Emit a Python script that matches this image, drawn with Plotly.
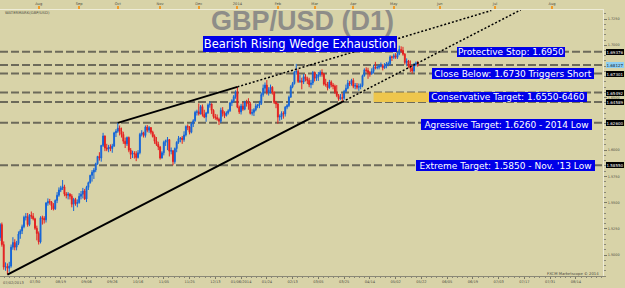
import pandas as pd
import plotly.graph_objects as go

# ---------------- data ----------------
first_day, last_day = "2013-07-02", "2014-05-20"
holidays = ["2013-12-25", "2014-01-01"]

open_ = [1.5210,1.5165,1.5290,1.5100,1.4885,1.4890,1.4875,1.4895,1.5075,1.5120,
 1.5075,1.5110,1.5200,1.5230,1.5270,1.5360,1.5365,1.5290,1.5380,1.5370,
 1.5345,1.5255,1.5205,1.5125,1.5355,1.5350,1.5335,1.5495,1.5510,1.5505,
 1.5470,1.5440,1.5520,1.5570,1.5620,1.5640,1.5650,1.5580,1.5570,1.5580,
 1.5560,1.5485,1.5530,1.5490,1.5500,1.5560,1.5580,1.5610,1.5535,1.5645,
 1.5690,1.5760,1.5790,1.5810,1.5870,1.5940,1.5925,1.6045,1.6135,1.6020,
 1.6010,1.6030,1.6015,1.6040,1.6165,1.6180,1.6210,1.6180,1.6150,1.6085,
 1.6060,1.6120,1.6000,1.5960,1.5970,1.5965,1.5930,1.5975,1.6150,1.6165,
 1.6140,1.6220,1.6190,1.6215,1.6170,1.6130,1.6085,1.6055,1.6030,1.5925,
 1.5975,1.6075,1.6090,1.6100,1.5990,1.5995,1.5890,1.6015,1.6075,1.6110,
 1.6115,1.6100,1.6145,1.6225,1.6220,1.6170,1.6250,1.6280,1.6360,1.6365,
 1.6345,1.6415,1.6340,1.6315,1.6355,1.6430,1.6440,1.6380,1.6320,1.6310,
 1.6295,1.6275,1.6380,1.6350,1.6330,1.6355,1.6375,1.6450,1.6470,1.6510,
 1.6555,1.6410,1.6365,1.6420,1.6390,1.6455,1.6450,1.6440,1.6350,1.6360,
 1.6385,1.6420,1.6430,1.6445,1.6530,1.6590,1.6620,1.6555,1.6575,1.6600,
 1.6555,1.6455,1.6440,1.6315,1.6320,1.6350,1.6345,1.6410,1.6425,1.6505,
 1.6605,1.6635,1.6745,1.6750,1.6655,1.6660,1.6650,1.6700,1.6680,1.6665,
 1.6625,1.6640,1.6740,1.6685,1.6700,1.6720,1.6740,1.6725,1.6630,1.6625,
 1.6595,1.6650,1.6620,1.6610,1.6555,1.6520,1.6490,1.6500,1.6495,1.6560,
 1.6590,1.6640,1.6635,1.6665,1.6610,1.6615,1.6600,1.6605,1.6615,1.6710,
 1.6765,1.6760,1.6740,1.6725,1.6750,1.6790,1.6785,1.6790,1.6800,1.6805,
 1.6785,1.6800,1.6820,1.6825,1.6890,1.6885,1.6900,1.6885,1.6915,1.6960,
 1.6950,1.6915,1.6835,1.6850,1.6800,1.6780,1.6755,1.6815,1.6830]

high = [1.5250,1.5305,1.5310,1.5130,1.4930,1.4920,1.4935,1.5100,1.5170,1.5150,
 1.5135,1.5225,1.5245,1.5290,1.5375,1.5400,1.5400,1.5390,1.5415,1.5400,
 1.5355,1.5280,1.5225,1.5370,1.5375,1.5370,1.5505,1.5540,1.5535,1.5515,
 1.5495,1.5530,1.5600,1.5645,1.5660,1.5715,1.5670,1.5600,1.5600,1.5590,
 1.5580,1.5545,1.5545,1.5530,1.5590,1.5610,1.5640,1.5630,1.5660,1.5700,
 1.5765,1.5810,1.5830,1.5880,1.5945,1.5980,1.6050,1.6165,1.6140,1.6060,
 1.6050,1.6055,1.6060,1.6175,1.6200,1.6260,1.6235,1.6215,1.6175,1.6120,
 1.6130,1.6130,1.6020,1.5995,1.5990,1.5990,1.6000,1.6165,1.6190,1.6175,
 1.6235,1.6240,1.6230,1.6220,1.6185,1.6150,1.6125,1.6080,1.6040,1.5990,
 1.6090,1.6100,1.6125,1.6105,1.6025,1.6000,1.6025,1.6085,1.6135,1.6125,
 1.6135,1.6180,1.6235,1.6245,1.6230,1.6265,1.6295,1.6375,1.6385,1.6445,
 1.6430,1.6435,1.6385,1.6365,1.6445,1.6465,1.6445,1.6390,1.6345,1.6340,
 1.6310,1.6405,1.6410,1.6370,1.6370,1.6390,1.6460,1.6485,1.6525,1.6570,
 1.6603,1.6425,1.6440,1.6460,1.6470,1.6480,1.6495,1.6460,1.6390,1.6400,
 1.6445,1.6440,1.6470,1.6550,1.6625,1.6645,1.6668,1.6600,1.6625,1.6610,
 1.6560,1.6470,1.6450,1.6340,1.6370,1.6370,1.6420,1.6440,1.6520,1.6620,
 1.6650,1.6755,1.6822,1.6770,1.6715,1.6690,1.6725,1.6725,1.6700,1.6690,
 1.6670,1.6755,1.6750,1.6725,1.6745,1.6760,1.6770,1.6735,1.6680,1.6650,
 1.6670,1.6665,1.6640,1.6625,1.6620,1.6535,1.6535,1.6540,1.6575,1.6625,
 1.6670,1.6660,1.6680,1.6685,1.6640,1.6640,1.6635,1.6635,1.6720,1.6780,
 1.6790,1.6785,1.6755,1.6780,1.6815,1.6842,1.6805,1.6820,1.6835,1.6820,
 1.6830,1.6840,1.6845,1.6905,1.6900,1.6920,1.6925,1.6935,1.6996,1.6990,
 1.6985,1.6925,1.6875,1.6860,1.6855,1.6810,1.6830,1.6845,1.6850]

low = [1.5145,1.5135,1.5080,1.4860,1.4850,1.4814,1.4840,1.4880,1.5050,1.5045,
 1.5045,1.5095,1.5155,1.5200,1.5255,1.5330,1.5270,1.5275,1.5345,1.5330,
 1.5240,1.5140,1.5100,1.5110,1.5290,1.5300,1.5310,1.5470,1.5480,1.5430,
 1.5425,1.5430,1.5495,1.5555,1.5600,1.5620,1.5560,1.5540,1.5530,1.5530,
 1.5455,1.5420,1.5470,1.5455,1.5490,1.5530,1.5540,1.5525,1.5505,1.5620,
 1.5680,1.5700,1.5725,1.5790,1.5860,1.5900,1.5890,1.6030,1.5990,1.5990,
 1.5980,1.5990,1.5975,1.6030,1.6125,1.6165,1.6140,1.6120,1.6060,1.6020,
 1.6040,1.5980,1.5915,1.5925,1.5920,1.5895,1.5920,1.5960,1.6130,1.6120,
 1.6120,1.6170,1.6165,1.6150,1.6120,1.6060,1.6040,1.6000,1.5910,1.5920,
 1.5950,1.6040,1.6000,1.5940,1.5960,1.5855,1.5870,1.5980,1.6060,1.6075,
 1.6060,1.6080,1.6130,1.6190,1.6150,1.6160,1.6220,1.6270,1.6330,1.6330,
 1.6340,1.6320,1.6305,1.6270,1.6345,1.6405,1.6345,1.6300,1.6290,1.6280,
 1.6240,1.6260,1.6320,1.6305,1.6320,1.6340,1.6365,1.6420,1.6455,1.6490,
 1.6400,1.6345,1.6340,1.6375,1.6380,1.6415,1.6385,1.6340,1.6330,1.6325,
 1.6370,1.6400,1.6400,1.6430,1.6510,1.6550,1.6530,1.6520,1.6540,1.6530,
 1.6440,1.6400,1.6252,1.6280,1.6290,1.6300,1.6320,1.6390,1.6410,1.6500,
 1.6590,1.6625,1.6720,1.6640,1.6640,1.6580,1.6630,1.6655,1.6630,1.6600,
 1.6590,1.6620,1.6655,1.6660,1.6660,1.6700,1.6700,1.6615,1.6605,1.6570,
 1.6585,1.6600,1.6580,1.6535,1.6505,1.6470,1.6480,1.6460,1.6480,1.6550,
 1.6580,1.6610,1.6615,1.6590,1.6580,1.6580,1.6565,1.6580,1.6600,1.6700,
 1.6740,1.6680,1.6700,1.6720,1.6730,1.6770,1.6770,1.6770,1.6790,1.6760,
 1.6775,1.6780,1.6800,1.6810,1.6850,1.6870,1.6870,1.6870,1.6905,1.6930,
 1.6900,1.6815,1.6800,1.6785,1.6745,1.6730,1.6740,1.6800,1.6795]

close = [1.5165,1.5290,1.5100,1.4885,1.4890,1.4875,1.4895,1.5075,1.5120,1.5075,
 1.5110,1.5200,1.5230,1.5270,1.5360,1.5365,1.5290,1.5380,1.5370,1.5345,
 1.5255,1.5205,1.5125,1.5355,1.5350,1.5335,1.5495,1.5510,1.5505,1.5470,
 1.5440,1.5520,1.5570,1.5620,1.5640,1.5650,1.5580,1.5570,1.5580,1.5560,
 1.5485,1.5530,1.5490,1.5500,1.5560,1.5580,1.5610,1.5535,1.5645,1.5690,
 1.5760,1.5790,1.5810,1.5870,1.5940,1.5925,1.6045,1.6135,1.6020,1.6010,
 1.6030,1.6015,1.6040,1.6165,1.6180,1.6210,1.6180,1.6150,1.6085,1.6060,
 1.6120,1.6000,1.5960,1.5970,1.5965,1.5930,1.5975,1.6150,1.6165,1.6140,
 1.6220,1.6190,1.6215,1.6170,1.6130,1.6085,1.6055,1.6030,1.5925,1.5975,
 1.6075,1.6090,1.6100,1.5990,1.5995,1.5890,1.6015,1.6075,1.6110,1.6115,
 1.6100,1.6145,1.6225,1.6220,1.6170,1.6250,1.6280,1.6360,1.6365,1.6345,
 1.6415,1.6340,1.6315,1.6355,1.6430,1.6440,1.6380,1.6320,1.6310,1.6295,
 1.6275,1.6380,1.6350,1.6330,1.6355,1.6375,1.6450,1.6470,1.6510,1.6555,
 1.6410,1.6365,1.6420,1.6390,1.6455,1.6450,1.6440,1.6350,1.6360,1.6385,
 1.6420,1.6430,1.6445,1.6530,1.6590,1.6620,1.6555,1.6575,1.6600,1.6555,
 1.6455,1.6440,1.6315,1.6320,1.6350,1.6345,1.6410,1.6425,1.6505,1.6605,
 1.6635,1.6745,1.6750,1.6655,1.6660,1.6650,1.6700,1.6680,1.6665,1.6625,
 1.6640,1.6740,1.6685,1.6700,1.6720,1.6740,1.6725,1.6630,1.6625,1.6595,
 1.6650,1.6620,1.6610,1.6555,1.6520,1.6490,1.6500,1.6495,1.6560,1.6590,
 1.6640,1.6635,1.6665,1.6610,1.6615,1.6600,1.6605,1.6615,1.6710,1.6765,
 1.6760,1.6740,1.6725,1.6750,1.6790,1.6785,1.6790,1.6800,1.6805,1.6785,
 1.6800,1.6820,1.6825,1.6890,1.6885,1.6900,1.6885,1.6915,1.6960,1.6950,
 1.6915,1.6835,1.6850,1.6800,1.6780,1.6755,1.6815,1.6830,1.6813]

levels = [1.69376, 1.68127, 1.67301, 1.65492, 1.64589, 1.62600, 1.58550]
level_tags = ["1.69376", "1.68127", "1.67301", "1.65492", "1.64589", "1.62600", "1.58550"]
current_tag = "1.68127"

y_ticks = [1.5000, 1.5250, 1.5500, 1.5750, 1.6000, 1.6250, 1.6500, 1.6750, 1.7000, 1.7250]
y_hidden = [1.6250, 1.6750]          # labels covered by the price tags

bottom_dates = ["2013-07-30", "2013-08-19", "2013-09-06", "2013-09-26", "2013-10-16",
                "2013-11-05", "2013-11-25", "2013-12-13", "2014-01-06", "2014-01-24",
                "2014-02-13", "2014-03-05", "2014-03-25", "2014-04-14", "2014-05-02",
                "2014-05-22", "2014-06-05", "2014-06-19", "2014-07-03", "2014-07-17",
                "2014-07-31", "2014-08-14"]
bottom_labels = ["07/30", "08/19", "09/06", "09/26", "10/16", "11/05", "11/25", "12/13",
                 "01/06/2014", "01/24", "02/13", "03/05", "03/25", "04/14", "05/02",
                 "05/22", "06/05", "06/19", "07/03", "07/17", "07/31", "08/14"]
first_label = "07/02/2013"

month_dates = ["2013-08-01", "2013-09-02", "2013-10-01", "2013-11-01", "2013-12-02",
               "2014-01-02", "2014-02-03", "2014-03-03", "2014-04-01", "2014-05-01",
               "2014-06-01", "2014-07-01", "2014-08-01"]
month_labels = ["Aug", "Sep", "Oct", "Nov", "Dec", "2014", "Feb", "Mar", "Apr", "May",
                "Jun", "Jul", "Aug"]

lower_wedge = ["2013-07-09", "2014-03-24", "2014-07-15"]   # two lows, extension end
upper_wedge = ["2013-10-01", "2014-01-02", "2014-06-29"]   # two highs, extension end
zone_dates = ["2014-04-16", "2014-05-26"]
zone_levels = [1.64589, 1.65492]

box_texts = ["Bearish Rising Wedge Exhaustion", "Protective Stop: 1.6950",
             "Close Below: 1.6730 Triggers Short", "Conservative Target: 1.6550-6460",
             "Agressive Target: 1.6260 - 2014 Low", "Extreme Target: 1.5850 - Nov. '13 Low"]

# ---------------- positions ----------------
dates = pd.bdate_range(first_day, last_day)
dates = dates[~dates.isin(pd.to_datetime(holidays))]
N = len(dates)
x_idx = list(range(N))


def pos(d):
    d = pd.Timestamp(d)
    if d <= dates[-1]:
        return int(dates.searchsorted(d))
    return N - 1 + (d - dates[-1]).days


W, H = 625, 288
ML, MR, MT, MB = 0, 22, 10, 12
PW, PH = W - ML - MR, H - MT - MB


def px(x):
    return (x - ML) / PW


def py(y):
    return (H - MB - y) / PH


x_range = [0.98, 328.7]
y_range = [1.4800, 1.7336]

BG = "#D8D3A8"
BLUE = "#1565D8"
RED = "#E42020"
BOXBLUE = "#0000E8"
TXT = "#4A4A40"

fig = go.Figure()
fig.add_trace(go.Candlestick(
    x=x_idx, open=open_, high=high, low=low, close=close,
    increasing=dict(line=dict(color=BLUE, width=1), fillcolor=BLUE),
    decreasing=dict(line=dict(color=RED, width=1), fillcolor=RED),
    whiskerwidth=0, hoverinfo="skip", showlegend=False))


def wedge(d, series):
    i0, i1, ie = pos(d[0]), pos(d[1]), pos(d[2])
    p0, p1 = series[i0], series[i1]
    slope = (p1 - p0) / (i1 - i0)
    return [i0, i1], [p0, p1], [i1, ie], [p1, p0 + slope * (ie - i0)]


for d, s in ((lower_wedge, low), (upper_wedge, high)):
    xs, ys, xd, yd = wedge(d, s)
    fig.add_trace(go.Scatter(x=xs, y=ys, mode="lines", line=dict(color="black", width=2),
                             hoverinfo="skip", showlegend=False))
    fig.add_trace(go.Scatter(x=xd, y=yd, mode="lines",
                             line=dict(color="black", width=1.5, dash="2px,2px"),
                             hoverinfo="skip", showlegend=False))

# dummy trace for the top axis
fig.add_trace(go.Scatter(x=[None], y=[None], xaxis="x2", yaxis="y", showlegend=False,
                         hoverinfo="skip"))

shapes = []
shapes.append(dict(type="rect", xref="x", yref="y", x0=pos(zone_dates[0]), x1=pos(zone_dates[1]),
                   y0=zone_levels[0], y1=zone_levels[1], fillcolor="#EEC64C",
                   line=dict(width=0), layer="below"))
for lv in levels:
    shapes.append(dict(type="line", xref="paper", yref="y", x0=0, x1=1, y0=lv, y1=lv,
                       line=dict(color="#6C6A5A", width=2, dash="8px,3px"), layer="below"))

ann = []
# big watermark title
ann.append(dict(text="<b>GBP/USD (D1)</b>", xref="paper", yref="paper", x=px(302), y=py(21),
                xanchor="center", yanchor="middle", showarrow=False,
                font=dict(family="Liberation Sans", size=27, color="#8E8D88")))
ann.append(dict(text="WATERMARK(GBP/USD)", xref="paper", yref="paper", x=px(3), y=py(13),
                xanchor="left", yanchor="middle", showarrow=False,
                font=dict(family="DejaVu Sans", size=3.8, color=TXT)))
ann.append(dict(text="FXCM Marketscope © 2014", xref="paper", yref="paper", x=px(601), y=py(273),
                xanchor="right", yanchor="middle", showarrow=False,
                font=dict(family="DejaVu Sans", size=3.8, color=TXT)))
ann.append(dict(text=first_label, xref="paper", yref="paper", x=px(1), y=py(283),
                xanchor="left", yanchor="middle", showarrow=False,
                font=dict(family="DejaVu Sans", size=3.6, color=TXT)))

# blue text boxes (center x, center y, width, height, font size)
box_geo = [(300, 44, 194, 16, 11.5), (511, 52, 108, 10, 9), (513, 73.5, 162, 11, 9),
           (508, 97, 158, 10, 9), (506.5, 124.5, 171, 11, 9), (505.5, 165.5, 179, 11, 9)]
for t, (cx, cy, w, h, fs) in zip(box_texts, box_geo):
    ann.append(dict(text=t, xref="paper", yref="paper", x=px(cx), y=py(cy),
                    xanchor="center", yanchor="middle", showarrow=False,
                    width=w, height=h, bgcolor=BOXBLUE, borderpad=0, borderwidth=0,
                    font=dict(family="DejaVu Sans", size=fs, color="white")))

# price tags on the right
for lv, tag in zip(levels, level_tags):
    cur = tag == current_tag
    ann.append(dict(text=tag, xref="paper", yref="y", x=px(615), y=lv,
                    xanchor="center", yanchor="middle", showarrow=False,
                    width=18, height=6, borderpad=0, borderwidth=0,
                    bgcolor="#8ECFF2" if cur else "black",
                    font=dict(family="DejaVu Sans", size=4, color="#102030" if cur else "white")))

y_text = ["" if v in y_hidden else f"{v:.4f}" for v in y_ticks]

fig.update_layout(
    width=W, height=H, margin=dict(l=ML, r=MR, t=MT, b=MB, pad=0),
    paper_bgcolor=BG, plot_bgcolor=BG, showlegend=False, hovermode=False,
    shapes=shapes, annotations=ann,
    xaxis=dict(range=x_range, rangeslider=dict(visible=False), showgrid=False, zeroline=False,
               tickmode="array", tickvals=[pos(d) for d in bottom_dates], ticktext=bottom_labels,
               ticks="outside", ticklen=2, tickcolor="#7A7866", tickwidth=1,
               minor=dict(tickmode="linear", tick0=pos(bottom_dates[0]), dtick=2.8,
                          ticks="outside", ticklen=1, tickcolor="#8A8876"),
               tickfont=dict(family="DejaVu Sans", size=3.6, color=TXT),
               showline=True, linecolor="#8A8876", linewidth=1, fixedrange=True),
    xaxis2=dict(range=x_range, overlaying="x", side="top", anchor="y", showgrid=False,
                zeroline=False, tickmode="array", tickvals=[pos(d) for d in month_dates],
                ticktext=month_labels, ticks="outside", ticklen=3, tickwidth=2,
                tickcolor="#F09A28",
                tickfont=dict(family="DejaVu Sans", size=3.6, color=TXT),
                showline=True, linecolor="#EEECD8", linewidth=1, fixedrange=True),
    yaxis=dict(range=y_range, side="right", showgrid=False, zeroline=False,
               tickmode="array", tickvals=y_ticks, ticktext=y_text,
               ticks="outside", ticklen=3, tickcolor="#7A7866",
               minor=dict(tickmode="linear", tick0=1.5, dtick=0.005, ticks="outside",
                          ticklen=1.5, tickcolor="#8A8876"),
               tickfont=dict(family="DejaVu Sans", size=3.4, color=TXT),
               showline=True, linecolor="#EEECD8", linewidth=1, fixedrange=True),
)

fig.write_html("out.html")
